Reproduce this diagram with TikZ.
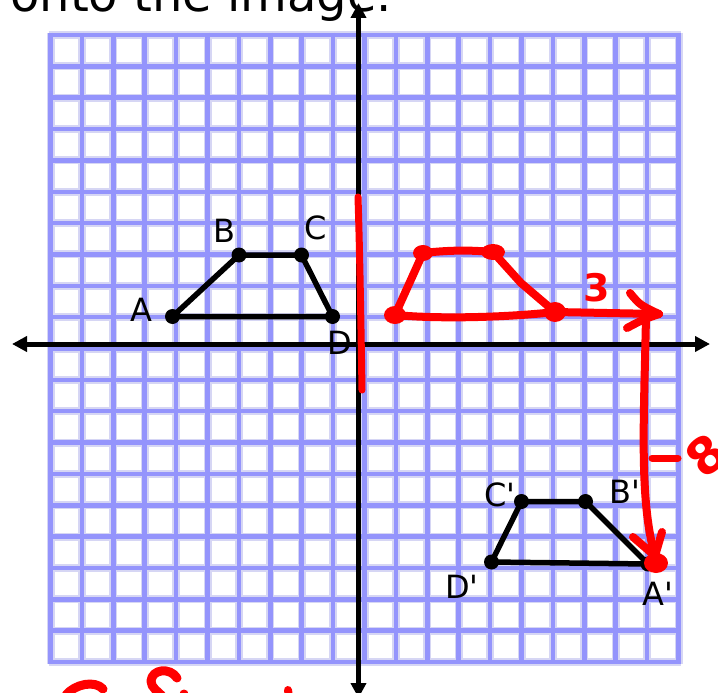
\documentclass[tikz,border=0pt]{standalone}
\usepackage{fontspec}
\setmainfont{DejaVu Sans}
\usetikzlibrary{arrows.meta}
\definecolor{gridblue}{RGB}{148,148,252}
\definecolor{gridhalo}{RGB}{214,214,244}
\definecolor{pen}{RGB}{255,0,0}
\tikzset{
 dot/.style={circle,fill=black,inner sep=0pt,minimum size=15pt},
 seg/.style={line width=5.5pt,black,line join=round},
 lbl/.style={font=\fontsize{32}{32}\selectfont,inner sep=0pt},
 redpen/.style={pen,line width=8pt,line cap=round,line join=round},
 axisline/.style={line width=5pt,{Triangle[length=15pt,width=15pt]}-{Triangle[length=15pt,width=15pt]}},
}
\begin{document}
\begin{tikzpicture}[x=1pt,y=-1pt]
\useasboundingbox (0,0) rectangle (718,693);
\clip (0,0) rectangle (718,693);
\fill[white] (0,0) rectangle (718,693);
% grid halo
\foreach \k in {0,...,20}{
 \pgfmathsetmacro\gx{50.5+31.4*\k}
 \pgfmathsetmacro\gy{35+31.35*\k}
 \draw[gridhalo,line width=8pt] (\gx,33) -- (\gx,664);
 \draw[gridhalo,line width=8pt] (48.5,\gy) -- (680.5,\gy);
}
% grid lines
\foreach \k in {0,...,20}{
 \pgfmathsetmacro\gx{50.5+31.4*\k}
 \pgfmathsetmacro\gy{35+31.35*\k}
 \draw[gridblue,line width=4.5pt] (\gx,32.75) -- (\gx,664.25);
 \draw[gridblue,line width=4.5pt] (48.25,\gy) -- (680.75,\gy);
}
% title (cut off at top)
\node[anchor=base west,font=\fontsize{48}{48}\selectfont,inner sep=0pt] (title) at (10,12) {onto the image.};
% axes
\coordinate (xl) at (12,344);
\coordinate (xr) at (710,344);
\coordinate (yt) at (358.5,3);
\coordinate (yb) at (358.5,698);
\draw[axisline] (xl) -- (xr);
\draw[axisline] (yb) -- (yt);
% original trapezoid
\node[dot] (A) at (172.5,316.5) {};
\node[dot] (B) at (239,255) {};
\node[dot] (C) at (301.5,255) {};
\node[dot] (D) at (332.5,316.5) {};
\draw[seg] (A.center) -- (B.center) -- (C.center) -- (D.center) -- cycle;
\node[lbl] (Al) at (141.5,310) {A};
\node[lbl] (Bl) at (224,231) {B};
\node[lbl] (Cl) at (316,228) {C};
\node[lbl] (Dl) at (340,343) {D};
% image trapezoid
\node[dot] (A2) at (648,564) {};
\node[dot] (B2) at (585.5,501.5) {};
\node[dot] (C2) at (521.5,501.5) {};
\node[dot] (D2) at (491.5,562) {};
\draw[seg] (D2.center) -- (C2.center) -- (B2.center) -- (A2.center) -- (D2.center);
\node[lbl] (A2l) at (658,594) {A\textquotesingle};
\node[lbl] (B2l) at (625,492) {B\textquotesingle};
\node[lbl] (C2l) at (500,495) {C\textquotesingle};
\node[lbl] (D2l) at (462,587) {D\textquotesingle};
% red reflection line
\coordinate (r1) at (358,197);
\coordinate (r2) at (362,390);
\draw[redpen,line width=7pt] (r1) .. controls (360,260) and (361,330) .. (r2);
% red trapezoid
\coordinate (P1) at (395,315);
\coordinate (P2) at (423,253);
\coordinate (P3) at (493,252);
\coordinate (P4) at (555,312);
\coordinate (T) at (659,314);
\draw[redpen] (P1) -- (P2) .. controls (450,250) and (470,250) .. (P3) -- (521,283) -- (P4);
\draw[redpen] (P1) .. controls (450,320) and (520,316) .. (P4) -- (T);
\fill[pen] (P1) ellipse (11 and 9);
\fill[pen] (P2) ellipse (10 and 8);
\fill[pen] (P3) ellipse (12 and 8);
\fill[pen] (P4) ellipse (11 and 10);
\draw[redpen] (630,293) .. controls (640,305) .. (T);
\draw[redpen] (627,328) .. controls (642,320) .. (T);
\node[text=pen,font=\fontsize{38}{38}\selectfont\bfseries,inner sep=0pt] (three) at (597,288) {3};
% red vertical arrow
\coordinate (S) at (646,316);
\coordinate (V) at (655,556);
\draw[redpen] (S) .. controls (644,420) and (639,500) .. (V);
\draw[redpen] (633,537) -- (V);
\draw[redpen] (662,532) -- (V);
\fill[pen] (656,563) ellipse (12 and 10);
\coordinate (m1) at (652,458);
\coordinate (m2) at (678,458);
\draw[redpen,line width=7pt] (m1) -- (m2);
\node[text=pen,font=\fontsize{50}{50}\selectfont\bfseries,inner sep=0pt,rotate=40] (eight) at (706,455) {8};
% red handwriting cut off at bottom
\draw[redpen,line width=9pt] (66,695) .. controls (75,684) and (95,680) .. (103,689);
\draw[redpen,line width=9pt] (177,678) .. controls (170,667) and (152,669) .. (151,681) .. controls (151,688) and (158,691) .. (163,697);
\fill[pen] (184,694) circle (4.5);
\draw[redpen] (288,690) -- (289,697);
\end{tikzpicture}
\end{document}
